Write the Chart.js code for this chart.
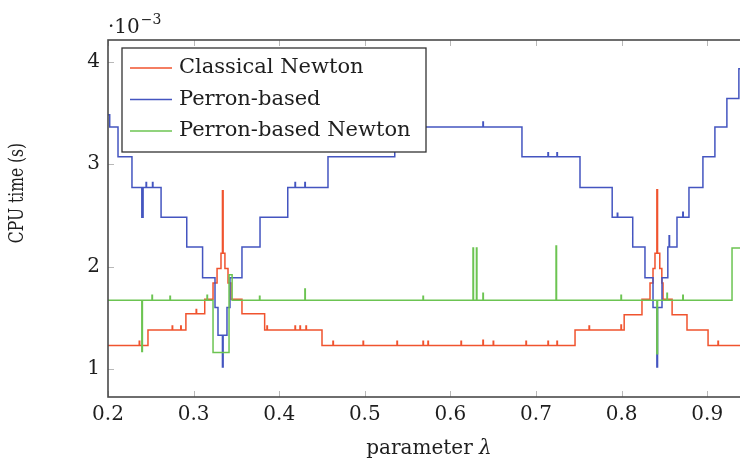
<!DOCTYPE html>
<html>
<head>
<meta charset="utf-8">
<script src="https://cdn.jsdelivr.net/npm/chart.js"></script>
<style>
  html, body { margin: 0; padding: 0; background: #fff; overflow: hidden; }
  #wrap { width: 762px; height: 466px; }
  canvas { display: block; }
</style>
</head>
<body>
<div id="wrap"><canvas id="cpu-chart" width="762" height="466"></canvas></div>
<script>
// CPU time in units of 1e-3 s; each value holds from its x up to the next x
const classicalX = [0.200, 0.2365, 0.2370, 0.2467, 0.2750, 0.2755, 0.2850, 0.2855, 0.2910, 0.3030,
  0.3035, 0.3130, 0.3227, 0.3274, 0.3320, 0.3337, 0.3345, 0.3366, 0.3402, 0.3437,
  0.3565, 0.3830, 0.3857, 0.3862, 0.4185, 0.4190, 0.4243, 0.4248, 0.4313, 0.4318,
  0.4500, 0.4628, 0.4633, 0.4980, 0.4985, 0.5376, 0.5381, 0.5680, 0.5685, 0.5738,
  0.5743, 0.6124, 0.6129, 0.6380, 0.6385, 0.6500, 0.6505, 0.6883, 0.6888, 0.7140,
  0.7145, 0.7245, 0.7250, 0.7456, 0.7620, 0.7625, 0.7993, 0.7998, 0.8030, 0.8238,
  0.8332, 0.8367, 0.8390, 0.8412, 0.8420, 0.8446, 0.8470, 0.8484, 0.8590, 0.8764,
  0.9010, 0.9126, 0.9131, 0.9500];
const classicalY = [1.23, 1.27, 1.23, 1.38, 1.42, 1.38, 1.42, 1.38, 1.54, 1.58,
  1.54, 1.68, 1.84, 1.98, 2.13, 2.74, 2.13, 1.98, 1.84, 1.68,
  1.54, 1.38, 1.42, 1.38, 1.42, 1.38, 1.42, 1.38, 1.42, 1.38,
  1.23, 1.27, 1.23, 1.27, 1.23, 1.27, 1.23, 1.27, 1.23, 1.27,
  1.23, 1.27, 1.23, 1.28, 1.23, 1.27, 1.23, 1.27, 1.23, 1.27,
  1.23, 1.27, 1.23, 1.38, 1.42, 1.38, 1.43, 1.38, 1.53, 1.68,
  1.84, 1.98, 2.13, 2.75, 2.13, 1.98, 1.84, 1.68, 1.53, 1.38,
  1.23, 1.27, 1.23, 1.23];

const perronX = [0.2000, 0.2020, 0.2117, 0.2280, 0.2395, 0.2410, 0.2445, 0.2450, 0.2520, 0.2525,
  0.2620, 0.2920, 0.3105, 0.3250, 0.3285, 0.3337, 0.3345, 0.3390, 0.3425, 0.3565,
  0.3776, 0.4100, 0.4185, 0.4190, 0.4300, 0.4305, 0.4570, 0.5350, 0.6380, 0.6385,
  0.6836, 0.7140, 0.7145, 0.7245, 0.7250, 0.7514, 0.7890, 0.7950, 0.7955, 0.8130,
  0.8273, 0.8367, 0.8412, 0.8420, 0.8472, 0.8540, 0.8555, 0.8560, 0.8647, 0.8715,
  0.8720, 0.8787, 0.8950, 0.9090, 0.9230, 0.9370, 0.9500];
const perronY = [3.48, 3.36, 3.07, 2.77, 2.48, 2.77, 2.82, 2.77, 2.82, 2.77,
  2.48, 2.19, 1.89, 1.60, 1.33, 1.02, 1.33, 1.60, 1.89, 2.19,
  2.48, 2.77, 2.82, 2.77, 2.82, 2.77, 3.07, 3.36, 3.41, 3.36,
  3.07, 3.11, 3.07, 3.11, 3.07, 2.77, 2.48, 2.52, 2.48, 2.19,
  1.89, 1.60, 1.02, 1.60, 1.89, 2.19, 2.30, 2.19, 2.48, 2.53,
  2.48, 2.77, 3.07, 3.36, 3.64, 3.93, 3.93];

const perronNewtonX = [0.2000, 0.2395, 0.2402, 0.2514, 0.2519, 0.2724, 0.2729, 0.3157, 0.3162, 0.3227,
  0.3414, 0.3450, 0.3770, 0.3775, 0.4300, 0.4305, 0.5680, 0.5685, 0.6264, 0.6270,
  0.6304, 0.6310, 0.6380, 0.6385, 0.7234, 0.7240, 0.7993, 0.7998, 0.8412, 0.8420,
  0.8530, 0.8535, 0.8715, 0.8720, 0.9290, 0.9500];
const perronNewtonY = [1.67, 1.17, 1.67, 1.72, 1.67, 1.71, 1.67, 1.72, 1.67, 1.16,
  1.92, 1.67, 1.71, 1.67, 1.78, 1.67, 1.71, 1.67, 2.18, 1.67,
  2.18, 1.67, 1.74, 1.67, 2.20, 1.67, 1.72, 1.67, 1.15, 1.67,
  1.74, 1.67, 1.72, 1.67, 2.18, 2.18];

const xTicks = [0.2, 0.3, 0.4, 0.5, 0.6, 0.7, 0.8, 0.9];
const xTickLabels = ["0.2", "0.3", "0.4", "0.5", "0.6", "0.7", "0.8", "0.9"];
const yTicks = [1, 2, 3, 4];
const yTickLabels = ["1", "2", "3", "4"];

const serif = "'DejaVu Serif', serif";
const ink = "#1e1e1e";

const toPoints = (xs, ys) => xs.map((x, i) => ({ x, y: ys[i] }));

// frame, inward ticks, legend box and the axis texts pgfplots style
const decorations = {
  id: "decorations",
  beforeDatasetsDraw(chart) {
    const { ctx, chartArea: a, scales: { x, y } } = chart;
    ctx.save();
    ctx.strokeStyle = "#b8b8b8";
    ctx.lineWidth = 1;
    ctx.beginPath();
    xTicks.forEach((v) => {
      const px = Math.round(x.getPixelForValue(v)) + 0.5;
      ctx.moveTo(px, a.bottom);
      ctx.lineTo(px, a.bottom - 6);
      ctx.moveTo(px, a.top);
      ctx.lineTo(px, a.top + 6);
    });
    yTicks.forEach((v) => {
      const py = Math.round(y.getPixelForValue(v)) + 0.5;
      ctx.moveTo(a.left, py);
      ctx.lineTo(a.left + 6, py);
    });
    ctx.stroke();
    ctx.restore();
  },
  afterDatasetsDraw(chart) {
    const { ctx, chartArea: a } = chart;
    ctx.save();
    ctx.strokeStyle = "#4a4a4a";
    ctx.lineWidth = 1.6;
    ctx.strokeRect(a.left, a.top, a.right - a.left, a.bottom - a.top);
    ctx.restore();
  },
  afterDraw(chart) {
    const { ctx, chartArea: a } = chart;
    ctx.save();

    // legend
    const bx = a.left + 14, by = a.top + 8, bw = 304, bh = 104;
    ctx.fillStyle = "#fff";
    ctx.fillRect(bx, by, bw, bh);
    ctx.strokeStyle = "#333";
    ctx.lineWidth = 1.3;
    ctx.strokeRect(bx, by, bw, bh);
    ctx.font = "21px " + serif;
    ctx.textBaseline = "middle";
    ctx.textAlign = "left";
    chart.data.datasets.forEach((ds, i) => {
      const ly = by + 20 + i * 31.5;
      ctx.strokeStyle = ds.borderColor;
      ctx.lineWidth = 1.5;
      ctx.beginPath();
      ctx.moveTo(bx + 8, ly);
      ctx.lineTo(bx + 50, ly);
      ctx.stroke();
      ctx.fillStyle = ink;
      ctx.fillText(ds.label, bx + 57, ly);
    });

    // y axis title, squeezed along its length
    ctx.save();
    ctx.translate(18, 193);
    ctx.rotate(-Math.PI / 2);
    ctx.scale(0.74, 1);
    ctx.font = "21px " + serif;
    ctx.textAlign = "center";
    ctx.textBaseline = "middle";
    ctx.fillStyle = ink;
    ctx.fillText("CPU time (s)", 0, 0);
    ctx.restore();

    // x axis title with italic lambda
    const part1 = "parameter ", part2 = "\u03bb";
    ctx.font = "20px " + serif;
    const w1 = ctx.measureText(part1).width;
    ctx.font = "italic 20px " + serif;
    const w2 = ctx.measureText(part2).width;
    const cx = (a.left + a.right) / 2;
    const tx = cx - (w1 + w2) / 2;
    ctx.fillStyle = ink;
    ctx.textAlign = "left";
    ctx.textBaseline = "middle";
    ctx.font = "20px " + serif;
    ctx.fillText(part1, tx, 449);
    ctx.font = "italic 20px " + serif;
    ctx.fillText(part2, tx + w1, 449);

    // exponent label above the y axis
    ctx.textBaseline = "alphabetic";
    ctx.font = "20px " + serif;
    ctx.fillText("\u00b710", a.left, 33);
    const we = ctx.measureText("\u00b710").width;
    ctx.font = "14px " + serif;
    ctx.fillText("\u22123", a.left + we + 1, 24);

    ctx.restore();
  },
};

const ctx = document.getElementById("cpu-chart");
new Chart(ctx, {
  type: "line",
  data: {
    datasets: [
      {
        label: "Classical Newton",
        data: toPoints(classicalX, classicalY),
        borderColor: "#f0532e",
        order: 3,
      },
      {
        label: "Perron-based",
        data: toPoints(perronX, perronY),
        borderColor: "#4455c0",
        order: 2,
      },
      {
        label: "Perron-based Newton",
        data: toPoints(perronNewtonX, perronNewtonY),
        borderColor: "#6cc452",
        order: 1,
      },
    ],
  },
  options: {
    responsive: false,
    animation: false,
    events: [],
    layout: { padding: { top: 40, right: 12, bottom: 0, left: 0 } },
    elements: {
      line: { borderWidth: 1.5, stepped: true, tension: 0 },
      point: { radius: 0 },
    },
    plugins: { legend: { display: false }, tooltip: { enabled: false } },
    scales: {
      x: {
        type: "linear",
        min: 0.2,
        max: 0.95,
        grid: { display: false, drawTicks: false },
        border: { display: false },
        afterBuildTicks: (scale) => {
          scale.ticks = xTicks.map((v) => ({ value: v }));
        },
        afterFit: (scale) => {
          scale.height = 69;
        },
        ticks: {
          autoSkip: false,
          maxRotation: 0,
          padding: 6,
          color: ink,
          font: { family: serif, size: 20 },
          callback: (v, i) => xTickLabels[i],
        },
      },
      y: {
        type: "linear",
        min: 0.727,
        max: 4.21,
        grid: { display: false, drawTicks: false },
        border: { display: false },
        afterBuildTicks: (scale) => {
          scale.ticks = yTicks.map((v) => ({ value: v }));
        },
        afterFit: (scale) => {
          scale.width = 108;
        },
        ticks: {
          autoSkip: false,
          padding: 8,
          color: ink,
          font: { family: serif, size: 20 },
          callback: (v, i) => yTickLabels[i],
        },
      },
    },
  },
  plugins: [decorations],
});
</script>
</body>
</html>
